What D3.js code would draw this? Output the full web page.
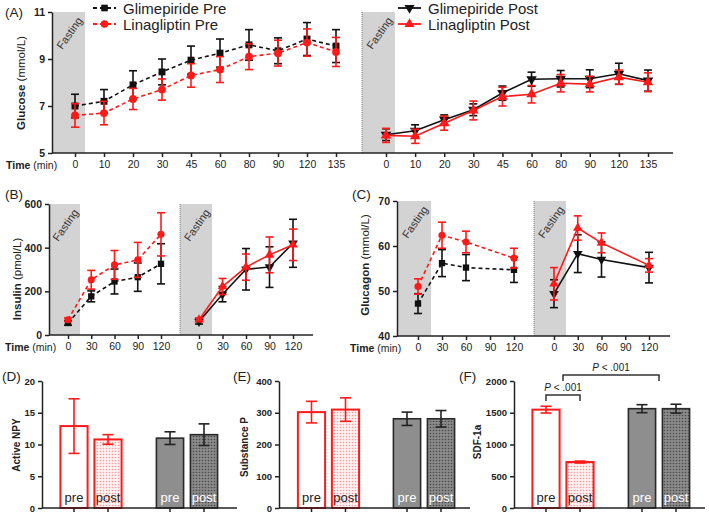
<!DOCTYPE html>
<html>
<head>
<meta charset="utf-8">
<script src="https://cdn.jsdelivr.net/npm/d3@7"></script>
<style>
  body { margin: 0; background: #fff; }
  svg { display: block; font-family: "Liberation Sans", Arial, sans-serif; }
</style>
</head>
<body>
<div id="chart"></div>
<script>
// ---------- data ----------
const glucoseTimes = ["0", "10", "20", "30", "45", "60", "80", "90", "120", "135"];
const glucoseGlimPre = [7.0, 7.2, 7.9, 8.45, 8.95, 9.25, 9.6, 9.35, 9.85, 9.55];
const glucoseGlimPreErr = [0.5, 0.5, 0.6, 0.55, 0.6, 0.6, 0.65, 0.55, 0.7, 0.7];
const glucoseLinaPre = [6.6, 6.7, 7.3, 7.7, 8.3, 8.55, 9.1, 9.25, 9.7, 9.3];
const glucoseLinaPreErr = [0.5, 0.5, 0.45, 0.45, 0.5, 0.55, 0.55, 0.55, 0.58, 0.62];
const glucoseGlimPost = [5.78, 5.95, 6.42, 6.84, 7.55, 8.14, 8.16, 8.16, 8.37, 8.08];
const glucoseGlimPostErr = [0.25, 0.25, 0.2, 0.25, 0.3, 0.3, 0.35, 0.38, 0.45, 0.45];
const glucoseLinaPost = [5.75, 5.71, 6.27, 6.81, 7.4, 7.5, 7.97, 7.93, 8.23, 8.01];
const glucoseLinaPostErr = [0.3, 0.3, 0.3, 0.4, 0.4, 0.37, 0.37, 0.33, 0.3, 0.4];

const hormoneTimes = ["0", "30", "60", "90", "120"];
const insulinGlimPre = [55, 177, 245, 265, 326];
const insulinGlimPreErr = [10, 25, 57, 65, 92];
const insulinLinaPre = [70, 253, 321, 344, 461];
const insulinLinaPreErr = [8, 43, 66, 80, 99];
const insulinGlimPost = [62, 187, 301, 311, 420];
const insulinGlimPostErr = [12, 35, 95, 93, 110];
const insulinLinaPost = [70, 222, 311, 367, 413];
const insulinLinaPostErr = [8, 37, 60, 82, 72];

const glucagonGlimPre = [47.2, 56.2, 55.2, null, 54.7];
const glucagonGlimPreErr = [2.2, 3.0, 2.9, null, 2.8];
const glucagonLinaPre = [51.0, 62.4, 60.9, null, 57.3];
const glucagonLinaPreErr = [1.7, 2.9, 2.4, null, 2.2];
const glucagonGlimPost = [49.4, 58.3, 57.0, null, 55.2];
const glucagonGlimPostErr = [3.1, 4.2, 3.9, null, 3.4];
const glucagonLinaPost = [51.6, 64.0, 60.7, null, 55.7];
const glucagonLinaPostErr = [3.6, 2.7, 2.2, null, 1.5];

const drugs = ["Linagliptin", "Glimepiride"];
const phases = ["pre", "post"];
// order: Linagliptin pre, Linagliptin post, Glimepiride pre, Glimepiride post
const npyMean = [12.9, 10.8, 11.0, 11.55];
const npyErr = [4.3, 0.75, 1.0, 1.7];
const substancePMean = [302, 310, 281, 281];
const substancePErr = [34, 37, 21, 26];
const sdfMean = [1549, 724, 1564, 1564];
const sdfErr = [53, 15, 63, 70];

// ---------- setup ----------
const W = 709, H = 514;
const RED = "#ff1a1a", BLACK = "#111", BAND = "#d3d3d3";

const svg = d3.select("#chart").append("svg")
    .attr("width", W)
    .attr("height", H)
    .attr("viewBox", `0 0 ${W} ${H}`);

const defs = svg.append("defs");
const redDots = defs.append("pattern").attr("id", "redDots")
    .attr("width", 3).attr("height", 3).attr("patternUnits", "userSpaceOnUse");
redDots.append("rect").attr("width", 3).attr("height", 3).attr("fill", "#fff2f2");
redDots.append("circle").attr("cx", 1.5).attr("cy", 1.5).attr("r", 0.8).attr("fill", "#f79a9a");
const greyDots = defs.append("pattern").attr("id", "greyDots")
    .attr("width", 3).attr("height", 3).attr("patternUnits", "userSpaceOnUse");
greyDots.append("rect").attr("width", 3).attr("height", 3).attr("fill", "#8a8a8a");
greyDots.append("circle").attr("cx", 1.5).attr("cy", 1.5).attr("r", 0.8).attr("fill", "#4a4a4a");

function symbolPath(kind, size) {
    if (kind === "square") return d3.symbol(d3.symbolSquare, size)();
    if (kind === "circle") return d3.symbol(d3.symbolCircle, size)();
    return d3.symbol(d3.symbolTriangle, size)();
}

function panelLabel(txt, x, y) {
    svg.append("text").attr("x", x).attr("y", y)
        .style("font-size", "13.5px").attr("fill", "#222").text(txt);
}

function yTitle(x, y, bold, rest, size) {
    const t = svg.append("text")
        .attr("transform", `translate(${x},${y}) rotate(-90)`)
        .attr("text-anchor", "middle")
        .style("font-size", size + "px")
        .attr("fill", "#222");
    t.append("tspan").style("font-weight", "bold").text(bold);
    if (rest) t.append("tspan").text(rest);
}

function styleYAxis(g, fontSize) {
    g.select(".domain").attr("stroke", "#222").attr("stroke-width", 1.5);
    g.selectAll(".tick line").attr("stroke", "#222").attr("stroke-width", 1.5);
    g.selectAll(".tick text")
        .style("font-size", fontSize + "px")
        .style("font-weight", "bold")
        .attr("fill", "#222");
}

// ---------- line panels ----------
function linePanel(cfg) {
    const y = d3.scaleLinear().domain(cfg.yDomain).range([cfg.yBottom, cfg.yTop]);
    const xs = {
        left: d3.scalePoint().domain(cfg.times).range(cfg.leftRange),
        right: d3.scalePoint().domain(cfg.times).range(cfg.rightRange)
    };

    // fasting bands
    [[cfg.axisX, cfg.bandLeftEnd], [cfg.divider, cfg.bandRightEnd]].forEach(([x0, x1]) => {
        svg.append("rect")
            .attr("x", x0).attr("y", cfg.yTop)
            .attr("width", x1 - x0).attr("height", cfg.yBottom - cfg.yTop)
            .attr("fill", BAND);
        svg.append("text")
            .attr("transform", `translate(${(x0 + x1) / 2 + 1},${cfg.yTop + 21}) rotate(-55)`)
            .attr("text-anchor", "middle")
            .attr("dy", "0.35em")
            .style("font-size", "11px")
            .attr("fill", "#333")
            .text("Fasting");
    });
    svg.append("line")
        .attr("x1", cfg.divider).attr("x2", cfg.divider)
        .attr("y1", cfg.yTop).attr("y2", cfg.yBottom)
        .attr("stroke", "#777").attr("stroke-width", 1)
        .attr("stroke-dasharray", "1,1");

    // axes
    const gy = svg.append("g")
        .attr("transform", `translate(${cfg.axisX},0)`)
        .call(d3.axisLeft(y).tickValues(cfg.yTicks).tickFormat(d3.format("d")).tickSize(4).tickSizeOuter(0));
    styleYAxis(gy, 10.5);

    svg.append("line")
        .attr("x1", cfg.axisX).attr("x2", cfg.xEnd)
        .attr("y1", cfg.yBottom).attr("y2", cfg.yBottom)
        .attr("stroke", "#222").attr("stroke-width", 1.5);

    ["left", "right"].forEach(side => {
        const gx = svg.append("g")
            .attr("transform", `translate(0,${cfg.yBottom})`)
            .call(d3.axisBottom(xs[side]).tickSize(4).tickPadding(4));
        gx.select(".domain").remove();
        gx.selectAll(".tick line").attr("stroke", "#222").attr("stroke-width", 1.5);
        gx.selectAll(".tick text").style("font-size", "10.5px").attr("fill", "#222");
    });

    const tl = svg.append("text")
        .attr("x", cfg.timeX).attr("y", cfg.yBottom + 16)
        .style("font-size", "10.5px").attr("fill", "#222");
    tl.append("tspan").style("font-weight", "bold").text("Time");
    tl.append("tspan").text(" (min)");

    yTitle(cfg.titleX, cfg.titleY, cfg.titleBold, cfg.titleRest, 11.5);

    // series
    cfg.series.forEach(s => {
        const x = xs[s.side];
        const pts = cfg.times.map((t, i) => ({ t, v: s.values[i], e: s.err[i] }))
            .filter(d => d.v != null);
        const line = d3.line().x(d => x(d.t)).y(d => y(d.v));
        svg.append("path")
            .attr("d", line(pts))
            .attr("fill", "none")
            .attr("stroke", s.color)
            .attr("stroke-width", 1.6)
            .attr("stroke-dasharray", s.dashed ? "4,3" : null);

        const eb = svg.append("g").attr("stroke", s.color).attr("stroke-width", 1.6);
        pts.forEach(d => {
            const cx = x(d.t);
            eb.append("line").attr("x1", cx).attr("x2", cx)
                .attr("y1", y(d.v - d.e)).attr("y2", y(d.v + d.e));
            [d.v - d.e, d.v + d.e].forEach(v => {
                eb.append("line").attr("x1", cx - 4).attr("x2", cx + 4)
                    .attr("y1", y(v)).attr("y2", y(v));
            });
        });

        svg.append("g").selectAll("path")
            .data(pts)
            .enter()
            .append("path")
            .attr("d", symbolPath(s.symbol, cfg.markerSize))
            .attr("transform", d => `translate(${x(d.t)},${y(d.v)})${s.symbol === "down" ? " rotate(180)" : ""}`)
            .attr("fill", s.color);
    });
}

linePanel({
    times: glucoseTimes, yDomain: [5, 11], yTicks: [5, 7, 9, 11],
    yTop: 12, yBottom: 153, axisX: 52, xEnd: 673,
    leftRange: [75, 336], rightRange: [386, 648],
    bandLeftEnd: 85, divider: 362, bandRightEnd: 395,
    timeX: 6, titleX: 25, titleY: 83, titleBold: "Glucose", titleRest: " (mmol/L)",
    markerSize: 48,
    series: [
        { side: "left", values: glucoseGlimPre, err: glucoseGlimPreErr, color: BLACK, dashed: true, symbol: "square" },
        { side: "left", values: glucoseLinaPre, err: glucoseLinaPreErr, color: RED, dashed: true, symbol: "circle" },
        { side: "right", values: glucoseGlimPost, err: glucoseGlimPostErr, color: BLACK, dashed: false, symbol: "down" },
        { side: "right", values: glucoseLinaPost, err: glucoseLinaPostErr, color: RED, dashed: false, symbol: "up" }
    ]
});

linePanel({
    times: hormoneTimes, yDomain: [0, 600], yTicks: [0, 200, 400, 600],
    yTop: 204, yBottom: 335, axisX: 49, xEnd: 313,
    leftRange: [68, 161], rightRange: [199, 293],
    bandLeftEnd: 80, divider: 180, bandRightEnd: 212,
    timeX: 5, titleX: 21, titleY: 279, titleBold: "Insulin", titleRest: " (pmol/L)",
    markerSize: 40,
    series: [
        { side: "left", values: insulinGlimPre, err: insulinGlimPreErr, color: BLACK, dashed: true, symbol: "square" },
        { side: "left", values: insulinLinaPre, err: insulinLinaPreErr, color: RED, dashed: true, symbol: "circle" },
        { side: "right", values: insulinGlimPost, err: insulinGlimPostErr, color: BLACK, dashed: false, symbol: "down" },
        { side: "right", values: insulinLinaPost, err: insulinLinaPostErr, color: RED, dashed: false, symbol: "up" }
    ]
});

linePanel({
    times: hormoneTimes, yDomain: [40, 70], yTicks: [40, 50, 60, 70],
    yTop: 201, yBottom: 336, axisX: 397, xEnd: 670,
    leftRange: [418, 514], rightRange: [554, 649],
    bandLeftEnd: 431, divider: 534, bandRightEnd: 566,
    timeX: 350, titleX: 369, titleY: 265, titleBold: "Glucagon", titleRest: " (mmol/L)",
    markerSize: 40,
    series: [
        { side: "left", values: glucagonGlimPre, err: glucagonGlimPreErr, color: BLACK, dashed: true, symbol: "square" },
        { side: "left", values: glucagonLinaPre, err: glucagonLinaPreErr, color: RED, dashed: true, symbol: "circle" },
        { side: "right", values: glucagonGlimPost, err: glucagonGlimPostErr, color: BLACK, dashed: false, symbol: "down" },
        { side: "right", values: glucagonLinaPost, err: glucagonLinaPostErr, color: RED, dashed: false, symbol: "up" }
    ]
});

// legends for panel A
function legendRow(x, y, label, color, dashed, symbol) {
    const g = svg.append("g").attr("transform", `translate(${x},${y})`);
    g.append("line").attr("x1", 0).attr("x2", 23).attr("y1", 0).attr("y2", 0)
        .attr("stroke", color).attr("stroke-width", 1.8)
        .attr("stroke-dasharray", dashed ? "4,3" : null);
    g.append("path").attr("d", symbolPath(symbol, 44))
        .attr("transform", `translate(11.5,0)${symbol === "down" ? " rotate(180)" : ""}`)
        .attr("fill", color);
    g.append("text").attr("x", 30).attr("y", 5.5)
        .style("font-size", "15px").attr("fill", "#222").text(label);
}
legendRow(93, 8, "Glimepiride Pre", BLACK, true, "square");
legendRow(93, 24, "Linagliptin Pre", RED, true, "circle");
legendRow(398, 8, "Glimepiride Post", BLACK, false, "down");
legendRow(398, 24, "Linagliptin Post", RED, false, "up");

// ---------- bar panels ----------
function barPanel(cfg) {
    const y = d3.scaleLinear().domain([0, cfg.yMax]).range([508, 381]);
    const xGroup = d3.scalePoint().domain(drugs).range(cfg.groupRange);
    const xPhase = d3.scaleBand().domain(phases).range([-34, 34])
        .paddingInner(0.2).paddingOuter(0.1);
    const bw = xPhase.bandwidth();

    const rows = [];
    drugs.forEach((drug, gi) => phases.forEach((ph, pi) => {
        const i = gi * 2 + pi;
        rows.push({ drug, ph, v: cfg.mean[i], e: cfg.err[i],
            cx: xGroup(drug) + xPhase(ph) + bw / 2 });
    }));

    svg.append("g").selectAll("rect")
        .data(rows)
        .enter()
        .append("rect")
        .attr("x", d => d.cx - bw / 2)
        .attr("y", d => y(d.v))
        .attr("width", bw)
        .attr("height", d => y(0) - y(d.v))
        .attr("fill", d => d.drug === "Linagliptin"
            ? (d.ph === "pre" ? "#fff" : "url(#redDots)")
            : (d.ph === "pre" ? "#8e8e8e" : "url(#greyDots)"))
        .attr("stroke", d => d.drug === "Linagliptin" ? RED : "#2a2a2a")
        .attr("stroke-width", d => d.drug === "Linagliptin" ? 2 : 1.6);

    const eb = svg.append("g").attr("stroke-width", 1.6);
    rows.forEach(d => {
        const c = d.drug === "Linagliptin" ? RED : "#222";
        eb.append("line").attr("x1", d.cx).attr("x2", d.cx)
            .attr("y1", y(d.v - d.e)).attr("y2", y(d.v + d.e)).attr("stroke", c);
        [d.v - d.e, d.v + d.e].forEach(v => {
            eb.append("line").attr("x1", d.cx - 5.5).attr("x2", d.cx + 5.5)
                .attr("y1", y(v)).attr("y2", y(v)).attr("stroke", c);
        });
    });

    svg.append("g").selectAll("text")
        .data(rows)
        .enter()
        .append("text")
        .attr("x", d => d.cx)
        .attr("y", 502)
        .attr("text-anchor", "middle")
        .style("font-size", "13px")
        .attr("fill", d => d.drug === "Linagliptin" ? "#222" : "#fff")
        .text(d => d.ph);

    const gy = svg.append("g")
        .attr("transform", `translate(${cfg.axisX},0)`)
        .call(d3.axisLeft(y).tickValues(cfg.yTicks).tickFormat(d3.format("d")).tickSize(4).tickSizeOuter(0));
    styleYAxis(gy, 9.5);

    svg.append("line")
        .attr("x1", cfg.axisX).attr("x2", cfg.xEnd)
        .attr("y1", y(0)).attr("y2", y(0))
        .attr("stroke", "#222").attr("stroke-width", 1.5);
    svg.append("g").selectAll("line")
        .data(rows)
        .enter()
        .append("line")
        .attr("x1", d => d.cx).attr("x2", d => d.cx)
        .attr("y1", y(0)).attr("y2", y(0) + 4)
        .attr("stroke", "#222").attr("stroke-width", 1.5);

    yTitle(cfg.titleX, cfg.titleY, cfg.title, null, 10);
    return { y, xGroup, rows };
}

barPanel({ mean: npyMean, err: npyErr, yMax: 20, yTicks: [0, 5, 10, 15, 20],
    axisX: 42, xEnd: 237, groupRange: [91, 187], titleX: 20, titleY: 445, title: "Active  NPY" });
barPanel({ mean: substancePMean, err: substancePErr, yMax: 400, yTicks: [0, 100, 200, 300, 400],
    axisX: 279, xEnd: 470, groupRange: [328.5, 424], titleX: 248, titleY: 447, title: "Substance  P" });
const f = barPanel({ mean: sdfMean, err: sdfErr, yMax: 2000, yTicks: [0, 500, 1000, 1500, 2000],
    axisX: 514, xEnd: 705, groupRange: [563, 659], titleX: 481, titleY: 442, title: "SDF-1a" });

// significance brackets in F
function bracket(x1, x2, yv, label) {
    const yy = f.y(yv);
    svg.append("path")
        .attr("d", `M${x1},${yy + 6}V${yy}H${x2}V${yy + 6}`)
        .attr("fill", "none").attr("stroke", "#333").attr("stroke-width", 1.5);
    const t = svg.append("text")
        .attr("x", (x1 + x2) / 2).attr("y", yy - 3.5)
        .attr("text-anchor", "middle")
        .style("font-size", "10px").attr("fill", "#222");
    t.append("tspan").style("font-style", "italic").text("P");
    t.append("tspan").text(label);
}
bracket(f.rows[0].cx, f.rows[1].cx, 1780, " < .001");
bracket(f.xGroup("Linagliptin"), f.xGroup("Glimepiride"), 2095, " < .001");

panelLabel("(A)", 5, 17);
panelLabel("(B)", 5, 199);
panelLabel("(C)", 352, 199);
panelLabel("(D)", 2, 381);
panelLabel("(E)", 233, 381);
panelLabel("(F)", 459, 381);
</script>
</body>
</html>
